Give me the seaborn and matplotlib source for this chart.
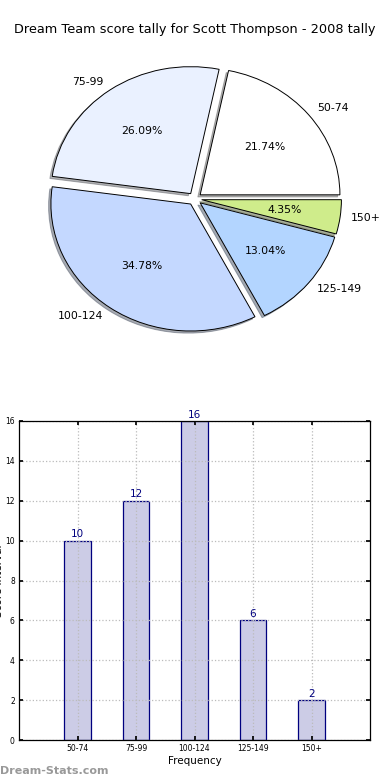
import matplotlib
matplotlib.use("Agg")
import matplotlib.pyplot as plt
import seaborn as sns
import numpy as np

categories = ["50-74", "75-99", "100-124", "125-149", "150+"]
counts = [10, 12, 16, 6, 2]
pie_colors = ["#FFFFFF", "#EAF1FF", "#C4D8FF", "#B3D5FF", "#CFEC8B"]
title = "Dream Team score tally for Scott Thompson - 2008 tally"

sns.set_theme(style="white")
plt.rcParams['font.family'] = ['DejaVu Sans']
plt.rcParams['text.color'] = 'black'

fig = plt.figure(figsize=(3.9, 7.8), dpi=100)
fig.patch.set_facecolor("white")

# Pie chart (elliptical, old matplotlib look)
axp = fig.add_axes([0.0359 + 6 / 390, 0.5346 + 0.007, 0.928 * 140 / 145, 0.423 * 127 / 132])
axp.pie(counts, labels=categories, colors=pie_colors, explode=[0.05] * 5,
        autopct="%1.2f%%", shadow={"ox": -0.012, "oy": -0.012, "shade": 0.6},
        startangle=0, labeldistance=1.08,
        wedgeprops=dict(edgecolor="black", linewidth=0.7),
        textprops=dict(fontsize=7.8, color="black"))
axp.set_aspect("auto")
axp.set_xlim(-1.25, 1.25)
axp.set_ylim(-1.25, 1.25)
axp.axis("off")
fig.text(0.5, 1 - 30 / 780, title, ha="center", va="center", fontsize=9.3, color="black")

# Bar chart
axb = fig.add_axes([19 / 390, 40 / 780, 351 / 390, 319 / 780])
sns.barplot(x=categories, y=counts, ax=axb, width=0.45, color="#CCCCE6",
            edgecolor="#00007F", linewidth=0.9, saturation=1)
axb.set_xlim(-1, 5)
axb.set_ylim(0, 16)
axb.set_yticks(np.arange(0, 17, 2))
axb.grid(True, linestyle=":", color="#BBBBBB", linewidth=0.9)
axb.set_axisbelow(False)
for c in axb.containers:
    axb.bar_label(c, labels=[str(v) for v in counts], color="#00007F", fontsize=7.5, padding=1)
axb.tick_params(axis="both", direction="in", length=3, labelsize=5.5, colors="black",
                top=True, right=True, bottom=True, left=True, pad=3)
for s in axb.spines.values():
    s.set_color("black")
    s.set_linewidth(0.9)
    s.set_zorder(5)
axb.set_xlabel("Frequency", fontsize=7.5, labelpad=2, color="black")
axb.set_ylabel("Score Interval", fontsize=7.5, color="black")
axb.yaxis.set_label_coords(-0.043, 0.5)

fig.text(0.0, 1 - 771 / 780, "Dream-Stats.com", ha="left", va="center",
         fontsize=8, fontweight="bold", color="#999999")

fig.savefig("out.png", dpi=100, facecolor="white")
